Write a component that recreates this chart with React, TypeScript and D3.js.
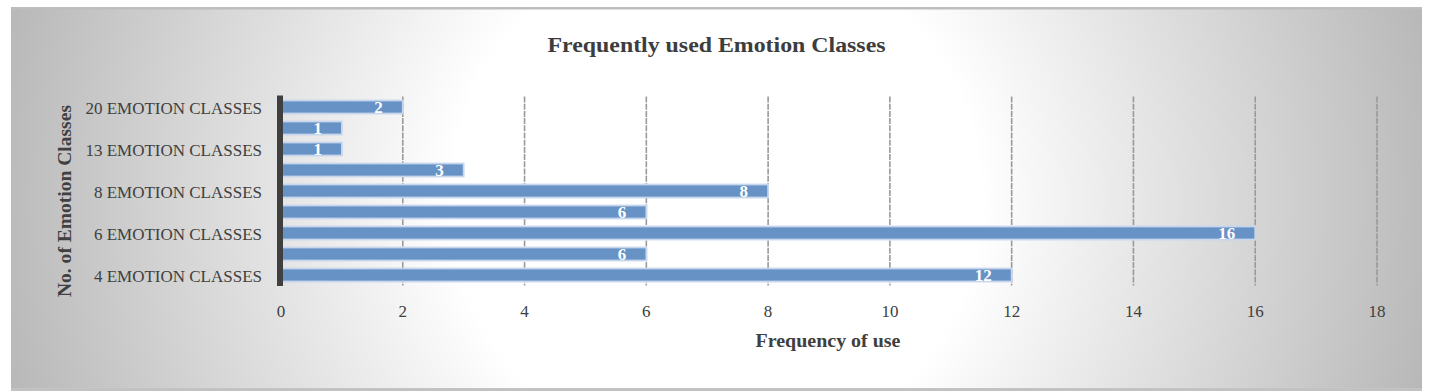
import React from "react";
import * as d3 from "d3";

const categories = [
  "4 EMOTION CLASSES",
  "5 EMOTION CLASSES",
  "6 EMOTION CLASSES",
  "7 EMOTION CLASSES",
  "8 EMOTION CLASSES",
  "10 EMOTION CLASSES",
  "13 EMOTION CLASSES",
  "15 EMOTION CLASSES",
  "20 EMOTION CLASSES",
];
const values = [12, 6, 16, 6, 8, 3, 1, 1, 2];
const xTicks = [0, 2, 4, 6, 8, 10, 12, 14, 16, 18];
const title = "Frequently used Emotion Classes";
const xTitle = "Frequency of use";
const yTitle = "No. of Emotion Classes";

const W = 1434;
const H = 391;
const plot = { left: 281, right: 1377, top: 96.5, bottom: 285.5 };
const FONT = "'Liberation Serif', 'DejaVu Serif', serif";

export default function App() {
  const x = d3.scaleLinear().domain([0, 18]).range([plot.left, plot.right]);
  const y = d3
    .scaleBand<string>()
    .domain([...categories].reverse())
    .range([plot.top, plot.bottom])
    .paddingInner(0.38)
    .paddingOuter(0.19);
  const yc = d3
    .scaleBand<string>()
    .domain([...categories].reverse())
    .range([plot.top, plot.bottom]);

  return (
    <svg
      width={W}
      height={H}
      style={{ position: "absolute", left: 0, top: 0 }}
      fontFamily={FONT}
    >
      <defs>
        <radialGradient
          id="bg"
          gradientUnits="userSpaceOnUse"
          cx={716}
          cy={198}
          r={731}
        >
          <stop offset="0" stopColor="#ffffff" />
          <stop offset="0.36" stopColor="#ffffff" />
          <stop offset="1" stopColor="#b8b8b8" />
        </radialGradient>
      </defs>
      <rect x={0} y={0} width={W} height={H} fill="#ffffff" />
      <rect x={11} y={7} width={1411} height={384} fill="url(#bg)" />
      <rect x={11} y={7} width={1411} height={2.5} fill="#bdbdbd" />
      <rect x={11} y={388} width={1411} height={3} fill="#c2c2c2" />

      <text
        x={716.5}
        y={52}
        textAnchor="middle"
        fontWeight="bold"
        fontSize={20}
        fill="#3d3d3d"
        textLength={338}
        lengthAdjust="spacingAndGlyphs"
      >
        {title}
      </text>

      {xTicks.map((t) => (
        <line
          key={"g" + t}
          x1={x(t)}
          x2={x(t)}
          y1={plot.top}
          y2={plot.bottom}
          stroke="#9a9a9a"
          strokeWidth={1.6}
          strokeDasharray={t === 0 ? undefined : "6 1.2"}
        />
      ))}

      {categories.map((c, i) => (
        <g key={c}>
          <rect
            x={x(0)}
            y={y(c)!}
            width={x(values[i]) - x(0)}
            height={y.bandwidth()}
            fill="#6792c6"
            stroke="#c6d6ec"
            strokeWidth={1.8}
          />
          <text
            x={x(values[i]) - 20}
            y={y(c)! + y.bandwidth() / 2 + 6}
            textAnchor="end"
            fontWeight="bold"
            fontSize={17}
            fill="#ffffff"
          >
            {values[i]}
          </text>
        </g>
      ))}

      <rect
        x={277}
        y={plot.top - 1}
        width={6}
        height={plot.bottom - plot.top + 1.5}
        fill="#404040"
      />

      {categories.map((c, i) =>
        i % 2 === 0 ? (
          <text
            key={"l" + c}
            x={262}
            y={yc(c)! + yc.bandwidth() / 2 + 6.5}
            textAnchor="end"
            fontSize={17}
            fill="#404040"
          >
            {c}
          </text>
        ) : null
      )}

      {xTicks.map((t) => (
        <text
          key={"t" + t}
          x={x(t)}
          y={317}
          textAnchor="middle"
          fontSize={17}
          fill="#404040"
        >
          {t}
        </text>
      ))}

      <text
        x={828}
        y={347}
        textAnchor="middle"
        fontWeight="bold"
        fontSize={18}
        fill="#404040"
        textLength={145}
        lengthAdjust="spacingAndGlyphs"
      >
        {xTitle}
      </text>

      <text
        transform={`translate(71, 201) rotate(-90)`}
        textAnchor="middle"
        fontWeight="bold"
        fontSize={18}
        fill="#404040"
        textLength={192}
        lengthAdjust="spacingAndGlyphs"
      >
        {yTitle}
      </text>
    </svg>
  );
}
